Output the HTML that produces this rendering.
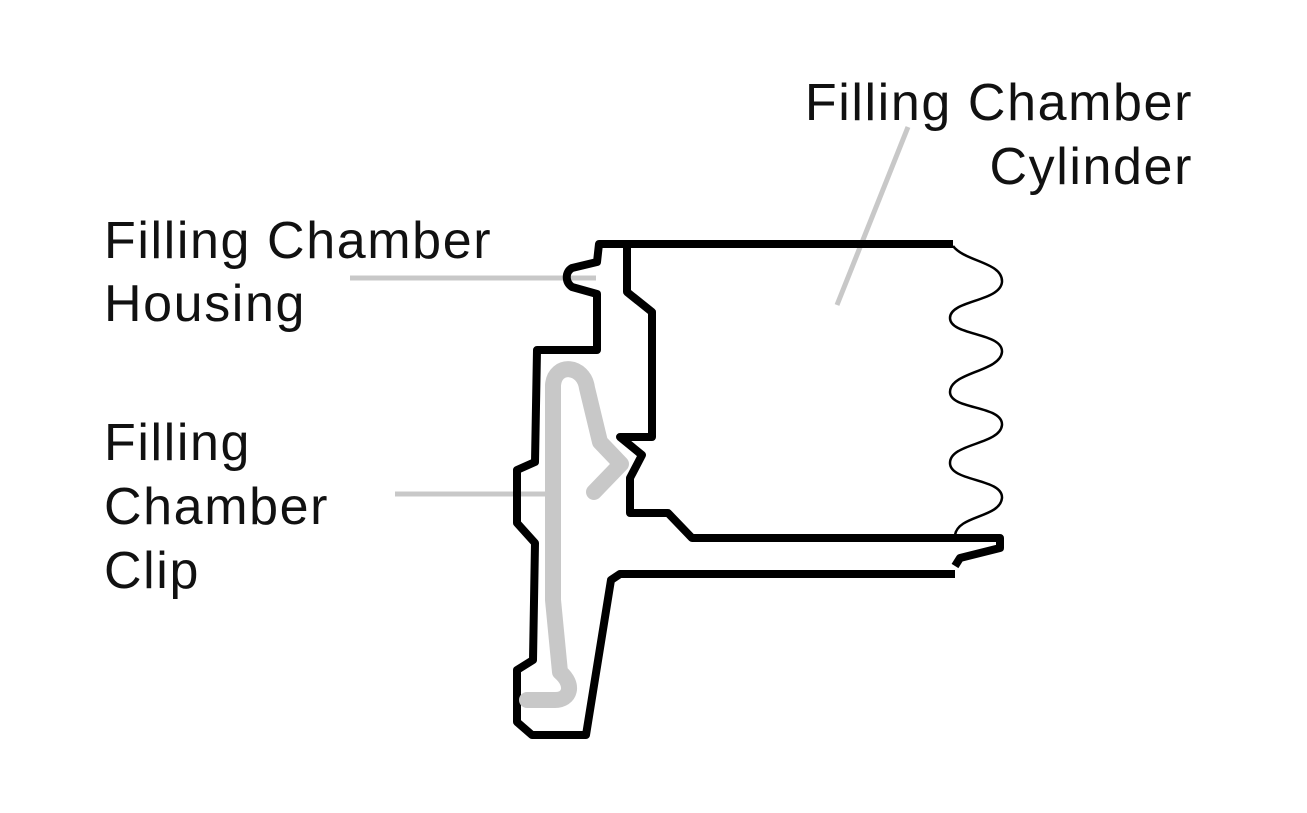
<!DOCTYPE html>
<html><head><meta charset="utf-8"><style>
html,body{margin:0;padding:0;background:#fff;}
svg{display:block}
text{font-family:"Liberation Sans",sans-serif;font-size:52px;fill:#111;letter-spacing:1.6px}
</style></head><body>
<svg width="1307" height="813" viewBox="0 0 1307 813" xmlns="http://www.w3.org/2000/svg">
<rect width="1307" height="813" fill="#fff"/>
<g stroke="#c8c8c8" stroke-width="5" fill="none">
<line x1="350" y1="278" x2="596" y2="278"/>
<line x1="395" y1="494" x2="546" y2="494"/>
<line x1="908" y1="127" x2="837" y2="305"/>
</g>
<g stroke="#000" stroke-width="8" fill="none" stroke-linejoin="round">
<path d="M953,244 L599,244 L597,262 L572,268 C565,272 565,282 572,287 L597,294 L597,350 L537,350 L535,462 L517,470 L517,523 L535,543 L533,660 L517,670 L517,722 L532,735 L586,735 L611,580 L620,574 L955,574"/>
<path d="M627,244 L627,292 L652,312 L652,437 L620,437 L642,455 L630,478 L630,513 L668,513 L692,538 L1000,538 L1000,548 L960,558 L955,566"/>
</g>
<path d="M953,246 C965,262 1003,262 1002,282 C1000,302 950,300 950,318 C950,336 1003,332 1002,352 C1000,372 950,372 950,392 C950,410 1003,405 1002,425 C1000,445 950,443 950,463 C950,482 1003,478 1002,498 C1000,518 958,515 955,535" stroke="#000" stroke-width="2.5" fill="none"/>
<path d="M594,492 L621,464 L600,442 L587,388 C584,365 555,362 553,385 L553,600 L560,672 C575,685 570,700 555,700 L527,700" stroke="#c8c8c8" stroke-width="16" fill="none" stroke-linecap="round" stroke-linejoin="round"/>
<text x="104" y="258">Filling Chamber</text>
<text x="104" y="321">Housing</text>
<text x="104" y="460">Filling</text>
<text x="104" y="524">Chamber</text>
<text x="104" y="588">Clip</text>
<text x="1193" y="120" text-anchor="end">Filling Chamber</text>
<text x="1193" y="184" text-anchor="end">Cylinder</text>
</svg>
</body></html>
